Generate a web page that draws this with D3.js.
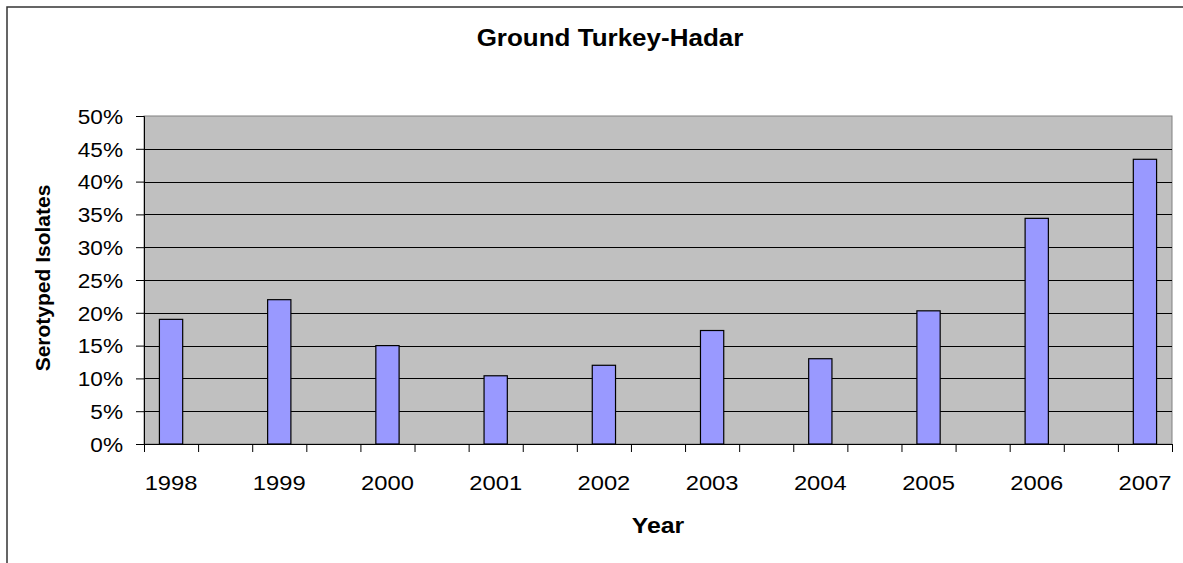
<!DOCTYPE html>
<html lang="en">
<head>
  <meta charset="UTF-8">
  <script src="https://cdn.jsdelivr.net/npm/d3@7/dist/d3.min.js"></script>
  <title>Ground Turkey-Hadar</title>
  <style>
    body { margin: 0; background: #fff; }
    text { font-family: "Liberation Sans", Arial, sans-serif; fill: #000; }
  </style>
</head>
<body>
  <script>
    // data
    const years = ['1998', '1999', '2000', '2001', '2002', '2003', '2004', '2005', '2006', '2007']
    const values = [0.19, 0.22, 0.15, 0.104, 0.12, 0.173, 0.13, 0.203, 0.344, 0.434]
    const yTicks = [0, 0.05, 0.1, 0.15, 0.2, 0.25, 0.3, 0.35, 0.4, 0.45, 0.5]

    const width = 1183, height = 563
    const plot = ({left: 144, right: 1172, top: 116, bottom: 444})
    const stretchX = 1.13  // the original picture is a bit wider than tall

    // every year sits in a slot, with an empty slot between years
    const nSlots = years.length * 2 - 1
    const slot = d3.scaleBand().domain(d3.range(nSlots)).range([plot.left, plot.right])
    const slotEdge = d3.scaleLinear().domain([0, nSlots]).range([plot.left, plot.right])
    const y = d3.scaleLinear().domain([0, 0.5]).range([plot.bottom, plot.top])
    const barW = slot.bandwidth() * 0.43

    const stretch = sel => sel.each(function () {
      const w = this.getComputedTextLength()
      this.setAttribute('textLength', w * stretchX)
      this.setAttribute('lengthAdjust', 'spacingAndGlyphs')
    })

    const svg = d3.select('body').append('svg')
        .attr('width', width)
        .attr('height', height)

    // outer frame, only top and left edges show
    svg.append('rect')
        .attr('x', 7).attr('y', 7)
        .attr('width', 1300).attr('height', 700)
        .attr('fill', 'none')
        .attr('stroke', '#333')
        .attr('stroke-width', 1.5)

    svg.append('rect')
        .attr('x', plot.left).attr('y', plot.top)
        .attr('width', plot.right - plot.left)
        .attr('height', plot.bottom - plot.top)
        .attr('fill', '#c0c0c0')
        .attr('stroke', '#808080')

    svg.append('g')
      .selectAll('line')
      .data(yTicks.slice(1, -1))
      .join('line')
        .attr('x1', plot.left).attr('x2', plot.right)
        .attr('y1', d => Math.round(y(d)) + 0.5)
        .attr('y2', d => Math.round(y(d)) + 0.5)
        .attr('stroke', '#000')

    svg.append('g')
      .selectAll('rect')
      .data(values)
      .join('rect')
        .attr('x', (d, i) => slot(i * 2) + (slot.bandwidth() - barW) / 2)
        .attr('y', d => y(d))
        .attr('width', barW)
        .attr('height', d => y(0) - y(d))
        .attr('fill', '#9999ff')
        .attr('stroke', '#000')
        .attr('stroke-width', 1.2)

    // y axis
    const yAxis = svg.append('g')
        .attr('transform', `translate(${plot.left},0)`)
        .call(d3.axisLeft(y).tickValues(yTicks).tickFormat(d3.format('.0%')).tickSize(8).tickPadding(13))
    yAxis.selectAll('path, line').attr('stroke', '#000')
    yAxis.selectAll('text')
        .attr('font-size', 20)
        .attr('dy', '0.36em')
        .call(stretch)

    // x axis ticks at slot edges
    const xAxis = svg.append('g')
        .attr('transform', `translate(0,${plot.bottom})`)
        .call(d3.axisBottom(slotEdge).tickValues(d3.range(nSlots + 1)).tickFormat('').tickSize(8).tickSizeOuter(0))
    xAxis.selectAll('path, line').attr('stroke', '#000')

    // year labels in their slots
    const xLabels = svg.append('g')
        .attr('transform', `translate(0,${plot.bottom})`)
        .call(d3.axisBottom(slot).tickValues(years.map((d, i) => i * 2))
          .tickFormat(i => years[i / 2]).tickSize(0).tickPadding(46))
    xLabels.select('.domain').remove()
    xLabels.selectAll('text')
        .attr('font-size', 21)
        .attr('dy', 0)
        .call(stretch)

    svg.append('text')
        .attr('x', 610).attr('y', 46)
        .attr('text-anchor', 'middle')
        .attr('font-size', 23)
        .attr('font-weight', 'bold')
        .text('Ground Turkey-Hadar')
        .call(stretch)

    svg.append('text')
        .attr('x', 658).attr('y', 533)
        .attr('text-anchor', 'middle')
        .attr('font-size', 22)
        .attr('font-weight', 'bold')
        .text('Year')
        .call(stretch)

    svg.append('text')
        .attr('transform', 'translate(50,278) rotate(-90)')
        .attr('text-anchor', 'middle')
        .attr('font-size', 21)
        .attr('font-weight', 'bold')
        .text('Serotyped Isolates')
  </script>
</body>
</html>
